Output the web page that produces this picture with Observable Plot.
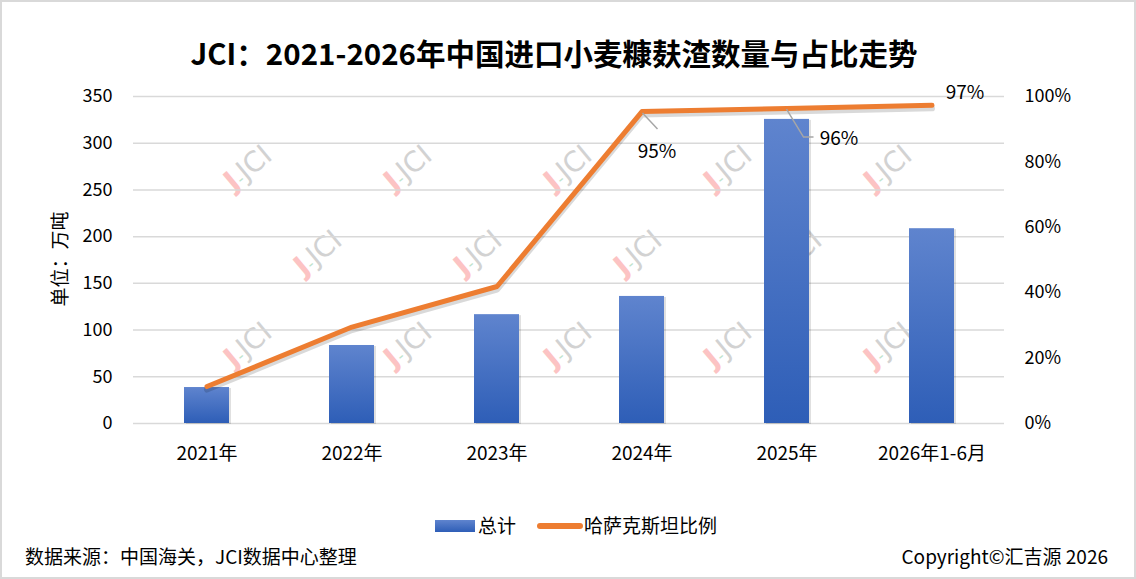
<!DOCTYPE html>
<html><head><meta charset="utf-8">
<script src="https://cdn.jsdelivr.net/npm/d3@7"></script>
<script src="https://cdn.jsdelivr.net/npm/@observablehq/plot@0.6"></script>
<style>
html,body{margin:0;padding:0;background:#fff;}
#wrap{position:relative;width:1136px;height:579px;overflow:hidden;background:#fff;font-family:"Noto Sans CJK SC","Noto Sans",sans-serif;color:#000;}
#frame{position:absolute;left:0;top:0;width:1136px;height:579px;box-sizing:border-box;border:2px solid #d9d9d9;pointer-events:none;z-index:10;}
#wm{position:absolute;left:0;top:0;width:1136px;height:579px;z-index:0;}
.wmk{position:absolute;transform:translate(-50%,-50%) rotate(-40deg);font-family:"DejaVu Sans",sans-serif;font-size:28px;white-space:nowrap;line-height:1;}
.wmk .j{color:#fcc3c3;font-weight:bold;}
.wmk .g{color:#bfe3cc;font-size:16px;}
.wmk .t{color:#d2d2d2;}
#chart{position:absolute;left:0;top:0;z-index:1;}
.txt{position:absolute;white-space:nowrap;line-height:1;z-index:2;}
#title{left:0;width:1108px;top:38px;text-align:center;font-size:29.5px;font-weight:bold;}
#ylab{left:58px;top:259px;font-size:19px;transform:translate(-50%,-50%) rotate(-90deg);}
#lg1{left:435px;top:520px;width:40px;height:12px;background:linear-gradient(#5f84ce,#2e5eb7);position:absolute;z-index:2;}
#lg1t{left:478px;top:515px;font-size:19px;}
#lg2{left:537px;top:523px;width:46px;height:6px;border-radius:3px;background:#ed7d31;position:absolute;z-index:2;}
#lg2t{left:584px;top:515px;font-size:19px;}
#src{left:25px;top:546px;font-size:19px;}
#copy{right:28px;top:546px;font-size:19px;}
</style></head><body>
<div id="wrap">
  <div id="wm"></div>
  <div id="chart"></div>
  <div class="txt" id="title">JCI：2021-2026年中国进口小麦糠麸渣数量与占比走势</div>
  <div class="txt" id="ylab">单位：万吨</div>
  <div id="lg1"></div><div class="txt" id="lg1t">总计</div>
  <div id="lg2"></div><div class="txt" id="lg2t">哈萨克斯坦比例</div>
  <div class="txt" id="src">数据来源：中国海关，JCI数据中心整理</div>
  <div class="txt" id="copy">Copyright©汇吉源 2026</div>
  <div id="frame"></div>
</div>
<script>
// ---- data ----
const years = ["2021年","2022年","2023年","2024年","2025年","2026年1-6月"];
const totals = [38.5, 83.5, 116.5, 136, 325.5, 208.5];      // 总计, 万吨
const shares = [11.3, 29.5, 41.9, 95.4, 96.3, 97.3];        // 哈萨克斯坦比例, %
const leftTicks = [0, 50, 100, 150, 200, 250, 300, 350];
const rightTicks = [0, 20, 40, 60, 80, 100];

const Y_MAX = 350;
const data = years.map((year, i) => ({year, total: totals[i], share: shares[i]}));
const shareY = d => d.share / 100 * Y_MAX;
const fmtPct = d => Math.round(d.share) + "%";

// watermarks (decorative)
const wm = document.getElementById("wm");
[[168, 248, 5], [253, 318, 4], [345, 248, 5]].forEach(([y, x0, n]) => {
  for (let k = 0; k < n; k++) {
    const s = document.createElement("div");
    s.className = "wmk";
    s.style.left = (x0 + 160 * k) + "px";
    s.style.top = y + "px";
    s.innerHTML = '<span class="j">J</span><span class="g">-</span><span class="t">JCI</span>';
    wm.appendChild(s);
  }
});

const defs = () => {
  const d = d3.create("svg:defs");
  const g = d.append("linearGradient").attr("id", "barGrad").attr("x1", 0).attr("y1", 0).attr("x2", 0).attr("y2", 1);
  g.append("stop").attr("offset", "0%").attr("stop-color", "#5f84ce");
  g.append("stop").attr("offset", "100%").attr("stop-color", "#2e5eb7");
  return d.node();
};

const leaders = (index, scales) => {
  const g = d3.create("svg:g").attr("fill", "none").attr("stroke", "#a6a6a6").attr("stroke-width", 1.5);
  try {
    const x = scales.x, y = scales.y;
    const bw = x.bandwidth ? x.bandwidth() : 0;
    const pt = i => [x(years[i]) + bw / 2, y(shares[i] / 100 * Y_MAX)];
    const [ax, ay] = pt(3);
    g.append("path").attr("d", `M${ax + 1},${ay + 2}L${ax + 16},${ay + 18}`);
    const [bx, by] = pt(4);
    g.append("path").attr("d", `M${bx},${by + 1}L${bx + 17},${by + 29}L${bx + 27},${by + 29}`);
  } catch (e) {}
  return g.node();
};

const chart = Plot.plot({
  width: 1136,
  height: 480,
  marginTop: 96,
  marginBottom: 57,
  marginLeft: 133,
  marginRight: 132,
  style: {fontFamily: '"Noto Sans CJK SC","Noto Sans",sans-serif', fontSize: "18px", color: "#000", background: "transparent", overflow: "visible"},
  x: {type: "band", domain: years, paddingInner: 0.69, paddingOuter: 0.345},
  y: {domain: [0, Y_MAX]},
  marks: [
    defs,
    Plot.ruleY(leftTicks, {stroke: "#d9d9d9", strokeWidth: 1.5}),
    Plot.barY(data, {x: "year", y: "total", fill: "#000", fillOpacity: 0.12, dx: 2, dy: 1}),
    Plot.barY(data, {x: "year", y: "total", fill: "url(#barGrad)"}),
    Plot.axisY({ticks: leftTicks, tickSize: 0, tickPadding: 21, label: null, fontSize: 18}),
    Plot.axisY({anchor: "right", ticks: rightTicks.map(p => p / 100 * Y_MAX), tickFormat: v => Math.round(v / Y_MAX * 100) + "%", tickSize: 0, tickPadding: 20, label: null, fontSize: 18}),
    Plot.axisX({tickSize: 0, tickPadding: 23, label: null, fontSize: 19}),
    Plot.lineY(data, {x: "year", y: shareY, stroke: "#000", strokeOpacity: 0.15, strokeWidth: 6, dy: 3, strokeLinecap: "round", strokeLinejoin: "round"}),
    Plot.lineY(data, {x: "year", y: shareY, stroke: "#ed7d31", strokeWidth: 5, strokeLinecap: "round", strokeLinejoin: "round"}),
    leaders,
    Plot.text(data.filter(d => d.year === "2024年"), {x: "year", y: shareY, text: fmtPct, dx: 15, dy: 40, fontSize: 19, fill: "#000"}),
    Plot.text(data.filter(d => d.year === "2025年"), {x: "year", y: shareY, text: fmtPct, dx: 52, dy: 30, fontSize: 19, fill: "#000"}),
    Plot.text(data.filter(d => d.year === "2026年1-6月"), {x: "year", y: shareY, text: fmtPct, dx: 33, dy: -12, fontSize: 19, fill: "#000"})
  ]
});
document.getElementById("chart").appendChild(chart);
</script>
</body></html>
